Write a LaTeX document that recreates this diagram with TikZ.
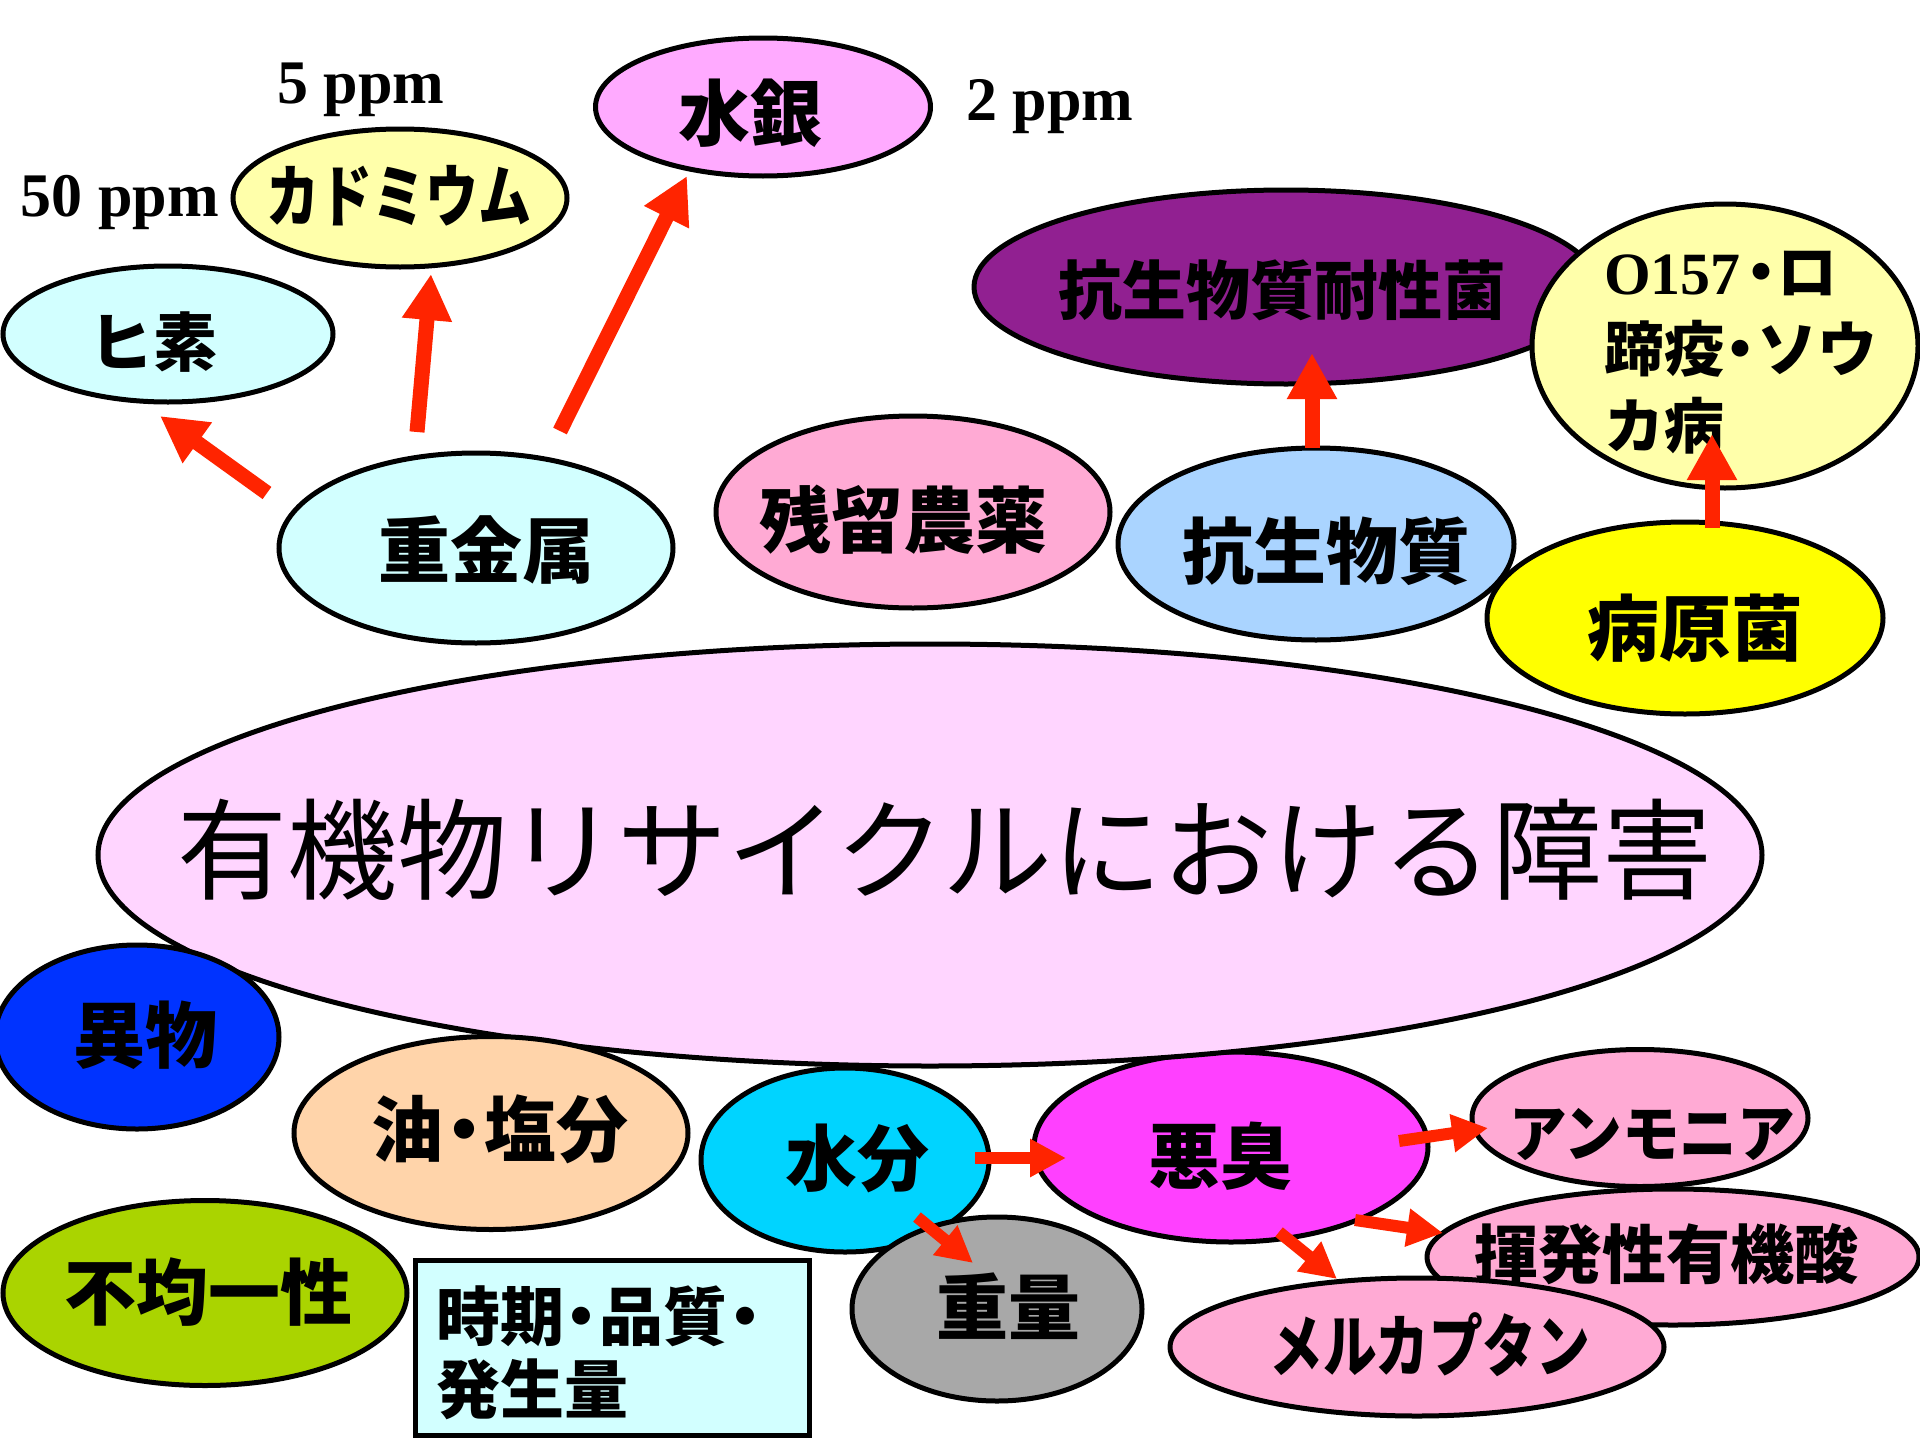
\documentclass[tikz,border=0pt]{standalone}
\usepackage{fontspec}
\usepackage{graphicx}
\newfontfamily\jp{Noto Sans CJK JP}
\newfontfamily\tms{Liberation Serif}
\usetikzlibrary{shapes.geometric,arrows.meta}
\definecolor{cCyanL}{HTML}{D2FFFF}
\definecolor{cYelL}{HTML}{FFFFAA}
\definecolor{cMagL}{HTML}{FFAAFF}
\definecolor{cPink}{HTML}{FFAAD4}
\definecolor{cBlueL}{HTML}{AAD4FF}
\definecolor{cPurple}{HTML}{912091}
\definecolor{cYel}{HTML}{FFFF00}
\definecolor{cMain}{HTML}{FFD5FF}
\definecolor{cBlue}{HTML}{0033FF}
\definecolor{cPeach}{HTML}{FFD4AA}
\definecolor{cLime}{HTML}{AAD400}
\definecolor{cCyan}{HTML}{00D4FF}
\definecolor{cMag}{HTML}{FF40FF}
\definecolor{cGray}{HTML}{A8A8A8}
\definecolor{cRed}{HTML}{FF2400}
\newcommand\nk{\kern-.22em・\kern-.22em}
\newcommand\hs[2]{\scalebox{#1}[1]{#2}}
\begin{document}
\begin{tikzpicture}[x=1pt,y=-1pt,
  blob/.style={ellipse, draw=black, line width=5pt, inner sep=0pt, outer sep=0pt},
  txt/.style={inner sep=0pt, outer sep=0pt},
  j/.style={txt, font=\jp\bfseries\fontsize{#1pt}{#1pt}\selectfont},
  ppm/.style={txt, font=\tms\bfseries\fontsize{62pt}{62pt}\selectfont},
  bigarr/.style={draw=cRed, line width=15pt, -{Triangle[length=46pt,width=47pt]}},
  smallarr/.style={draw=cRed, line width=12pt, -{Triangle[length=36pt,width=36pt]}}]
\useasboundingbox (0,0) rectangle (1920,1440);
\fill[white] (0,0) rectangle (1920,1440);

% upper group
\node[blob, fill=cCyanL, minimum width=330pt, minimum height=136pt] (hiso) at (168,334) {};
\node[j=64] (hiso-t) at (153,342) {ヒ素};
\node[blob, fill=cYelL, minimum width=334pt, minimum height=138pt] (cad) at (400,198) {};
\node[j=68] (cad-t) at (399,196) {\hs{0.78}{カドミウム}};
\node[blob, fill=cMagL, minimum width=335pt, minimum height=138pt] (hg) at (763,107) {};
\node[j=72] (hg-t) at (750,113) {水銀};
\node[ppm] (p5) at (361,90) {5 ppm};
\node[ppm] (p50) at (120,202) {50 ppm};
\node[ppm] (p2) at (1050,107) {2 ppm};

\node[blob, fill=cCyanL, minimum width=394pt, minimum height=190pt] (jk) at (476,548) {};
\node[j=72] (jk-t) at (486,550) {重金属};
\node[blob, fill=cPink, minimum width=394pt, minimum height=192pt] (zan) at (913,512) {};
\node[j=72] (zan-t) at (903,520) {残留農薬};
\node[blob, fill=cBlueL, minimum width=396pt, minimum height=192pt] (kou) at (1316,544) {};
\node[j=72] (kou-t) at (1326,551) {抗生物質};
\node[blob, fill=cPurple, minimum width=624pt, minimum height=194pt] (tai) at (1286,287) {};
\node[j=64] (tai-t) at (1282,290) {抗生物質耐性菌};
\node[blob, fill=cYelL, minimum width=386pt, minimum height=284pt] (o157) at (1725,346) {};
\node[txt, anchor=north west, align=left, font=\jp\bfseries\fontsize{60pt}{77pt}\selectfont] (o157-t) at (1604,251)
  {{\tms\bfseries O157}\kern-.16em・\kern-.22em ロ\\蹄疫\nk ソウ\\カ病};
\node[blob, fill=cYel, minimum width=396pt, minimum height=192pt] (byo) at (1685,618) {};
\node[j=72] (byo-t) at (1695,628) {病原菌};

% lower group (under main)
\node[blob, fill=cCyan, minimum width=288pt, minimum height=184pt] (mizu) at (845,1160) {};
\node[j=72] (mizu-t) at (857,1158) {水分};
\node[blob, fill=cMag, minimum width=394pt, minimum height=190pt] (aku) at (1231,1147) {};
\node[j=72] (aku-t) at (1220,1156) {悪臭};

% main
\node[blob, fill=cMain, minimum width=1664pt, minimum height=422pt] (main) at (930,855) {};
\node[txt, font=\jp\fontsize{110pt}{110pt}\selectfont] (main-t) at (945,850) {有機物リサイクルにおける障害};

% lower group
\node[blob, fill=cBlue, minimum width=284pt, minimum height=184pt] (ibu) at (137,1037) {};
\node[j=72] (ibu-t) at (145,1035) {異物};
\node[blob, fill=cPeach, minimum width=394pt, minimum height=193pt] (abura) at (491,1133) {};
\node[j=72] (abura-t) at (500,1129) {油\nk 塩分};
\node[blob, fill=cLime, minimum width=404pt, minimum height=185pt] (fuk) at (205,1293) {};
\node[j=72] (fuk-t) at (208,1292) {不均一性};
\node[draw=black, line width=5pt, fill=cCyanL, inner sep=0pt, minimum width=394pt, minimum height=175pt] (box) at (612,1347.5) {};
\node[txt, anchor=north west, align=left, font=\jp\bfseries\fontsize{64pt}{73pt}\selectfont] (box-t) at (436,1286)
  {時期\nk 品質\nk\\発生量};
\node[blob, fill=cGray, minimum width=290pt, minimum height=184pt] (jur) at (997,1309) {};
\node[j=72] (jur-t) at (1008,1306) {重量};
\node[blob, fill=cPink, minimum width=336pt, minimum height=137pt] (amm) at (1640,1118) {};
\node[j=62] (amm-t) at (1652,1135) {\hs{0.93}{アンモニア}};
\node[blob, fill=cPink, minimum width=492pt, minimum height=136pt] (kih) at (1673,1257) {};
\node[j=64] (kih-t) at (1666,1254) {揮発性有機酸};
\node[blob, fill=cPink, minimum width=494pt, minimum height=138pt] (mer) at (1417,1347) {};
\node[j=68] (mer-t) at (1430,1345) {\hs{0.79}{メルカプタン}};

% arrows
\coordinate (a1s) at (267,493); \coordinate (a1e) at (160,416);
\coordinate (a2s) at (417,432); \coordinate (a2e) at (431,274);
\coordinate (a3s) at (560,431); \coordinate (a3e) at (687,176);
\coordinate (a4s) at (1312,448); \coordinate (a4e) at (1312,353);
\coordinate (a5s) at (1712,528); \coordinate (a5e) at (1712,434);
\draw[bigarr] (a1s) -- (a1e);
\draw[bigarr] (a2s) -- (a2e);
\draw[bigarr] (a3s) -- (a3e);
\draw[bigarr] (a4s) -- (a4e);
\draw[bigarr] (a5s) -- (a5e);
\coordinate (b1s) at (975,1158); \coordinate (b1e) at (1066,1158);
\coordinate (b2s) at (1399,1141); \coordinate (b2e) at (1488,1128);
\coordinate (b3s) at (1355,1220); \coordinate (b3e) at (1443,1233);
\coordinate (b4s) at (1279,1232); \coordinate (b4e) at (1337,1279);
\coordinate (b5s) at (917,1217); \coordinate (b5e) at (973,1263);
\draw[smallarr] (b1s) -- (b1e);
\draw[smallarr] (b2s) -- (b2e);
\draw[smallarr] (b3s) -- (b3e);
\draw[smallarr] (b4s) -- (b4e);
\draw[smallarr] (b5s) -- (b5e);
\end{tikzpicture}
\end{document}
